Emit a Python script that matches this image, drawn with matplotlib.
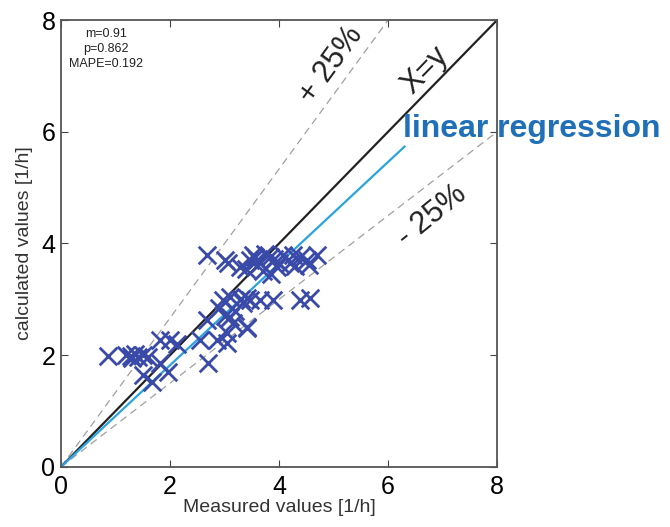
import numpy as np
import matplotlib
matplotlib.use("Agg")
import matplotlib.pyplot as plt

plt.rcParams['font.family'] = ['Liberation Sans', 'DejaVu Sans']

# measured vs calculated values [1/h]
measured = [0.86, 1.2, 1.28, 1.35, 1.42, 1.5, 1.3, 1.6, 1.82, 2.0, 2.13,
            1.5, 1.67, 1.82, 1.96, 2.68, 3.06, 3.0, 3.28, 3.47,
            2.68, 2.55, 2.7, 2.86, 3.05, 2.97, 3.1, 3.34, 3.1, 3.16, 3.41, 3.47, 3.05,
            3.52, 3.83, 4.07, 4.39, 4.7, 3.96, 4.51, 3.65, 4.2, 3.6, 3.75, 3.9, 4.3,
            4.55, 3.7, 3.85, 3.4, 3.55, 4.0, 4.25,
            3.41, 3.65, 3.89, 4.39, 4.57, 3.41, 3.2, 3.0, 2.9, 3.3]
calculated = [1.99, 2.0, 1.98, 2.02, 1.97, 2.0, 1.95, 1.97, 2.27, 2.27, 2.2,
              1.65, 1.52, 1.86, 1.7, 3.79, 3.65, 3.7, 3.58, 3.7,
              2.63, 2.27, 1.86, 2.27, 2.4, 2.99, 3.04, 2.93, 2.68, 2.58, 2.5, 2.99, 2.22,
              3.79, 3.76, 3.79, 3.76, 3.79, 3.58, 3.7, 3.65, 3.65, 3.7, 3.82, 3.72, 3.6,
              3.62, 3.5, 3.45, 3.55, 3.75, 3.65, 3.8,
              3.02, 2.99, 2.99, 2.99, 3.02, 2.49, 2.8, 2.7, 2.85, 3.0]

slope_fit = 0.91
x_fit_end = 6.3
stats_text = "m=0.91\np=0.862\nMAPE=0.192"

fig = plt.figure(figsize=(6.7, 5.27), dpi=100)
ax = fig.add_axes([0.091, 0.114, 0.651, 0.848])

xx = np.array([0, 8])
ax.plot(xx, xx / 0.75, ls="--", color="#a0a0a0", lw=0.9, dashes=(6, 4))
ax.plot(xx, xx * 0.75, ls="--", color="#a0a0a0", lw=0.9, dashes=(6, 4))
ax.plot(xx, xx, color="#222222", lw=1.6)
ax.plot([0, x_fit_end], [0, slope_fit * x_fit_end], color="#2aa4de", lw=1.6)

ax.scatter(measured, calculated, marker="x", s=160, color="#3a4aa8", linewidths=2, zorder=3)

ax.set_xlim(0, 8)
ax.set_ylim(0, 8)
ax.set_xticks([0, 2, 4, 6, 8])
ax.set_yticks([0, 2, 4, 6, 8])
ax.tick_params(direction="in", top=True, right=True, labelsize=18, length=5, color="#444444")
ax.tick_params(axis="x", pad=6)
ax.tick_params(axis="y", pad=4)
for s in ax.spines.values():
    s.set_color("#555555")
    s.set_linewidth(1.3)

ax.set_xlabel("Measured values [1/h]", fontsize=14, labelpad=0, color="#333333")
ax.set_ylabel("calculated values [1/h]", fontsize=14, labelpad=6, color="#333333")

ax.text(0.82, 7.85, stats_text, fontsize=9, ha="center", va="top", linespacing=1.3, color="#222222")
ax.text(4.95, 7.2, "+ 25%", fontsize=22, rotation=54, ha="center", va="center", color="#222222")
ax.text(6.68, 7.1, "X=y", fontsize=22, rotation=46, ha="center", va="center", color="#222222")
ax.text(6.8, 4.5, "- 25%", fontsize=22, rotation=39, ha="center", va="center", color="#222222")
ax.text(6.28, 6.05, "linear regression", fontsize=23, fontweight="bold", color="#1f70b8",
        ha="left", va="center", clip_on=False)

fig.savefig("out.png", dpi=100)
